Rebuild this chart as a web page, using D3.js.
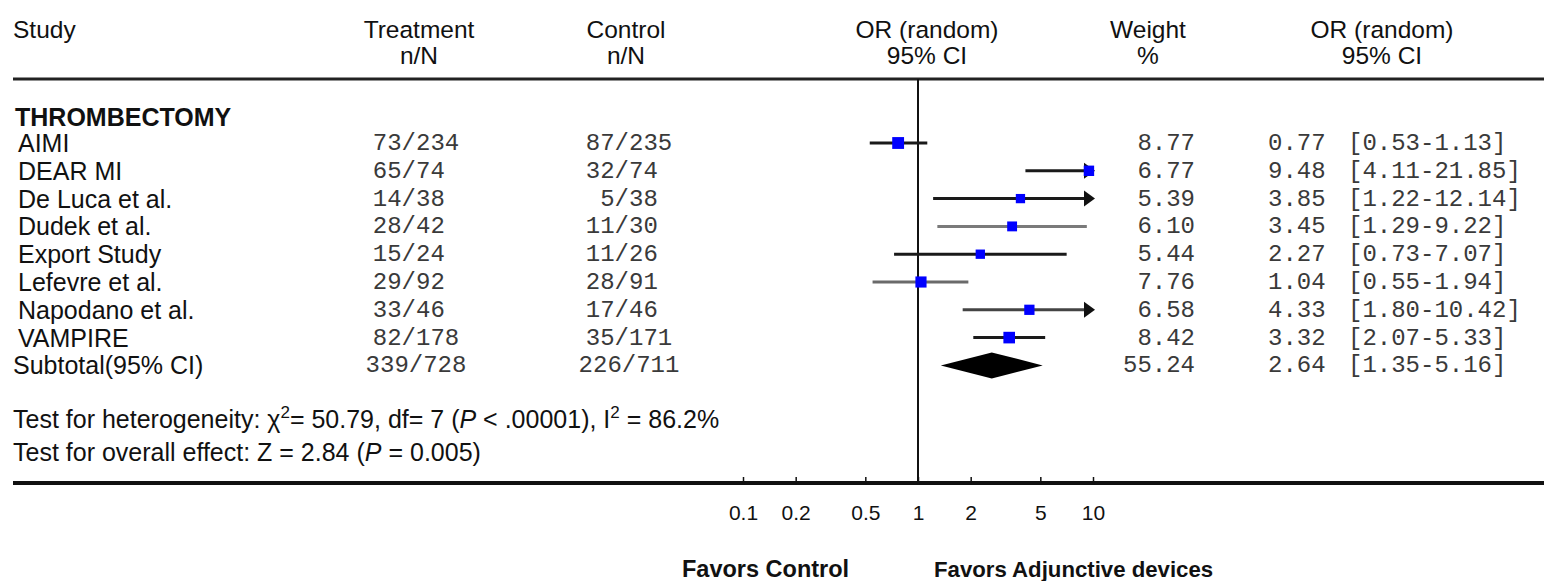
<!DOCTYPE html>
<html lang="en">
<head>
  <meta charset="UTF-8">
  <title>Forest plot</title>
  <style>
    body{margin: 0; background: #fff;}
    text{font-family: "Liberation Sans", Arial, Helvetica, sans-serif; fill: #111;}
    .mono{font-family: "Liberation Mono", "Courier New", monospace; fill: #3a3a3a; white-space: pre;}
  </style>
</head>
<body>
  <div id="chart"></div>
  <script src="https://d3js.org/d3.v7.min.js"></script>
  <script>
  // DATA
  const studies = ["AIMI", "DEAR MI", "De Luca et al.", "Dudek et al.", "Export Study", "Lefevre et al.", "Napodano et al.", "VAMPIRE"];
  const treatment = ["73/234", "65/74", "14/38", "28/42", "15/24", "29/92", "33/46", "82/178"];
  const control = ["87/235", "32/74", " 5/38", "11/30", "11/26", "28/91", "17/46", "35/171"];
  const weights = [8.77, 6.77, 5.39, 6.10, 5.44, 7.76, 6.58, 8.42];
  const oddsRatio = [0.77, 9.48, 3.85, 3.45, 2.27, 1.04, 4.33, 3.32];
  const ciLow = [0.53, 4.11, 1.22, 1.29, 0.73, 0.55, 1.80, 2.07];
  const ciHigh = [1.13, 21.85, 12.14, 9.22, 7.07, 1.94, 10.42, 5.33];
  const subtotal = {label: "Subtotal(95% CI)", treatment: "339/728", control: "226/711", weight: 55.24, or: 2.64, lo: 1.35, hi: 5.16};
  const tickValues = [0.1, 0.2, 0.5, 1, 2, 5, 10];

  // CONSTANTS
  const width = 1544;
  const height = 581;
  const cdark = "#111";
  const cblue = "#0000ff";
  const fs = 25;
  const lineTone = {"Dudek et al.": "#7a7a7a", "Lefevre et al.": "#6a6a6a", "Napodano et al.": "#444"};
  const fmt = d3.format(".2f");

  const svg = d3.select("#chart").append("svg")
    .attr("width", width)
    .attr("height", height)
    .attr("viewBox", [0, 0, width, height]);

  // SCALES
  const x = d3.scaleLog().domain([0.1, 10]).range([743, 1093]);
  const rowKeys = studies.concat(["__subtotal"]);
  const y = d3.scalePoint().domain(rowKeys).range([143, 365.4]);

  // HEADER
  const header = svg.append("g").attr("font-size", 24.5);
  header.append("text").attr("x", 13).attr("y", 38).text("Study");
  const headCols = [
    {x: 419, l1: "Treatment", l2: "n/N"},
    {x: 626, l1: "Control", l2: "n/N"},
    {x: 927, l1: "OR (random)", l2: "95% CI"},
    {x: 1148, l1: "Weight", l2: "%"},
    {x: 1382, l1: "OR (random)", l2: "95% CI"}
  ];
  headCols.forEach(c => {
    header.append("text").attr("x", c.x).attr("y", 38).attr("text-anchor", "middle").text(c.l1);
    header.append("text").attr("x", c.x).attr("y", 64).attr("text-anchor", "middle").text(c.l2);
  });
  svg.append("line")
    .attr("x1", 13).attr("x2", width)
    .attr("y1", 79).attr("y2", 79)
    .attr("stroke", "#222").attr("stroke-width", 3);

  // NULL LINE
  svg.append("line")
    .attr("x1", x(1)).attr("x2", x(1))
    .attr("y1", 79).attr("y2", 483)
    .attr("stroke", cdark).attr("stroke-width", 2);

  // GROUP TITLE
  svg.append("text")
    .attr("x", 15).attr("y", 126)
    .attr("font-size", fs).attr("font-weight", "bold")
    .text("THROMBECTOMY");

  // TABLE ROWS
  const rows = svg.append("g")
    .selectAll("g")
    .data(studies)
    .join("g")
    .attr("transform", d => `translate(0,${y(d)})`);

  rows.append("text").attr("x", 18).attr("y", 9).attr("font-size", fs).text(d => d);
  rows.append("text").attr("class", "mono").attr("x", 416).attr("y", 7).attr("font-size", 24)
    .attr("text-anchor", "middle").text((d, i) => treatment[i].padEnd(6, " "));
  rows.append("text").attr("class", "mono").attr("x", 629).attr("y", 7).attr("font-size", 24)
    .attr("text-anchor", "middle").text((d, i) => control[i].padEnd(6, " "));
  rows.append("text").attr("class", "mono").attr("x", 1195).attr("y", 7).attr("font-size", 24)
    .attr("text-anchor", "end").text((d, i) => fmt(weights[i]));
  rows.append("text").attr("class", "mono").attr("x", 1268).attr("y", 7).attr("font-size", 24)
    .text((d, i) => fmt(oddsRatio[i]));
  rows.append("text").attr("class", "mono").attr("x", 1348).attr("y", 7).attr("font-size", 24)
    .text((d, i) => `[${fmt(ciLow[i])}-${fmt(ciHigh[i])}]`);

  // CI LINES, ARROWS AND BOXES
  const [dMin, dMax] = x.domain();
  rows.append("line")
    .attr("x1", (d, i) => x(Math.max(ciLow[i], dMin)))
    .attr("x2", (d, i) => x(Math.min(ciHigh[i], dMax)) - (ciHigh[i] > dMax ? 6 : 0))
    .attr("y1", 0).attr("y2", 0)
    .attr("stroke", d => lineTone[d] || "#1a1a1a")
    .attr("stroke-width", 3);

  rows.filter((d, i) => ciHigh[i] > dMax)
    .append("path")
    .attr("d", () => {
      const tip = x(dMax) + 2;
      return `M${tip - 11},-8L${tip},0L${tip - 11},8Z`;
    })
    .attr("fill", cdark);

  rows.append("rect")
    .attr("x", (d, i) => x(oddsRatio[i]) - 2 * Math.sqrt(weights[i]))
    .attr("y", (d, i) => -2 * Math.sqrt(weights[i]))
    .attr("width", (d, i) => 4 * Math.sqrt(weights[i]))
    .attr("height", (d, i) => 4 * Math.sqrt(weights[i]))
    .attr("fill", cblue);

  // SUBTOTAL ROW
  const sub = svg.append("g").attr("transform", `translate(0,${y("__subtotal")})`);
  sub.append("text").attr("x", 13).attr("y", 9).attr("font-size", fs).text(subtotal.label);
  sub.append("text").attr("class", "mono").attr("x", 416).attr("y", 7).attr("font-size", 24)
    .attr("text-anchor", "middle").text(subtotal.treatment);
  sub.append("text").attr("class", "mono").attr("x", 629).attr("y", 7).attr("font-size", 24)
    .attr("text-anchor", "middle").text(subtotal.control);
  sub.append("text").attr("class", "mono").attr("x", 1195).attr("y", 7).attr("font-size", 24)
    .attr("text-anchor", "end").text(fmt(subtotal.weight));
  sub.append("text").attr("class", "mono").attr("x", 1268).attr("y", 7).attr("font-size", 24)
    .text(fmt(subtotal.or));
  sub.append("text").attr("class", "mono").attr("x", 1348).attr("y", 7).attr("font-size", 24)
    .text(`[${fmt(subtotal.lo)}-${fmt(subtotal.hi)}]`);
  sub.append("path")
    .attr("d", `M${x(subtotal.lo)},0L${x(subtotal.or)},-13L${x(subtotal.hi)},0L${x(subtotal.or)},13Z`)
    .attr("fill", "#000");

  // TEST STATISTICS
  const t1 = svg.append("text").attr("x", 13).attr("y", 428).attr("font-size", fs);
  t1.append("tspan").text("Test for heterogeneity: χ");
  t1.append("tspan").attr("font-size", 17).attr("dy", -10).text("2");
  t1.append("tspan").attr("dy", 10).text("= 50.79, df= 7 (");
  t1.append("tspan").attr("font-style", "italic").text("P");
  t1.append("tspan").text(" < .00001), I");
  t1.append("tspan").attr("font-size", 17).attr("dy", -10).text("2");
  t1.append("tspan").attr("dy", 10).text(" = 86.2%");

  const t2 = svg.append("text").attr("x", 13).attr("y", 461).attr("font-size", fs);
  t2.append("tspan").text("Test for overall effect: Z = 2.84 (");
  t2.append("tspan").attr("font-style", "italic").text("P");
  t2.append("tspan").text(" = 0.005)");

  // AXIS
  svg.append("line")
    .attr("x1", 13).attr("x2", width)
    .attr("y1", 483).attr("y2", 483)
    .attr("stroke", "#111").attr("stroke-width", 4);

  const axis = d3.axisBottom(x)
    .tickValues(tickValues)
    .tickSize(4)
    .tickFormat(d3.format("~g"));
  const gAxis = svg.append("g")
    .attr("transform", "translate(0,481)")
    .call(axis);
  gAxis.select(".domain").remove();
  gAxis.selectAll(".tick line").attr("stroke", "#111").attr("stroke-width", 1.5).attr("y1", -4);
  gAxis.selectAll(".tick text")
    .attr("font-size", 21)
    .attr("font-family", "Liberation Sans, Arial, sans-serif")
    .attr("fill", "#111")
    .attr("dy", null)
    .attr("y", 39);

  // FAVOURS LABELS
  svg.append("text").attr("x", 682).attr("y", 577)
    .attr("font-size", 23.5).attr("font-weight", "bold").text("Favors Control");
  svg.append("text").attr("x", 934).attr("y", 577)
    .attr("font-size", 22.2).attr("font-weight", "bold").text("Favors Adjunctive devices");
  </script>
</body>
</html>
